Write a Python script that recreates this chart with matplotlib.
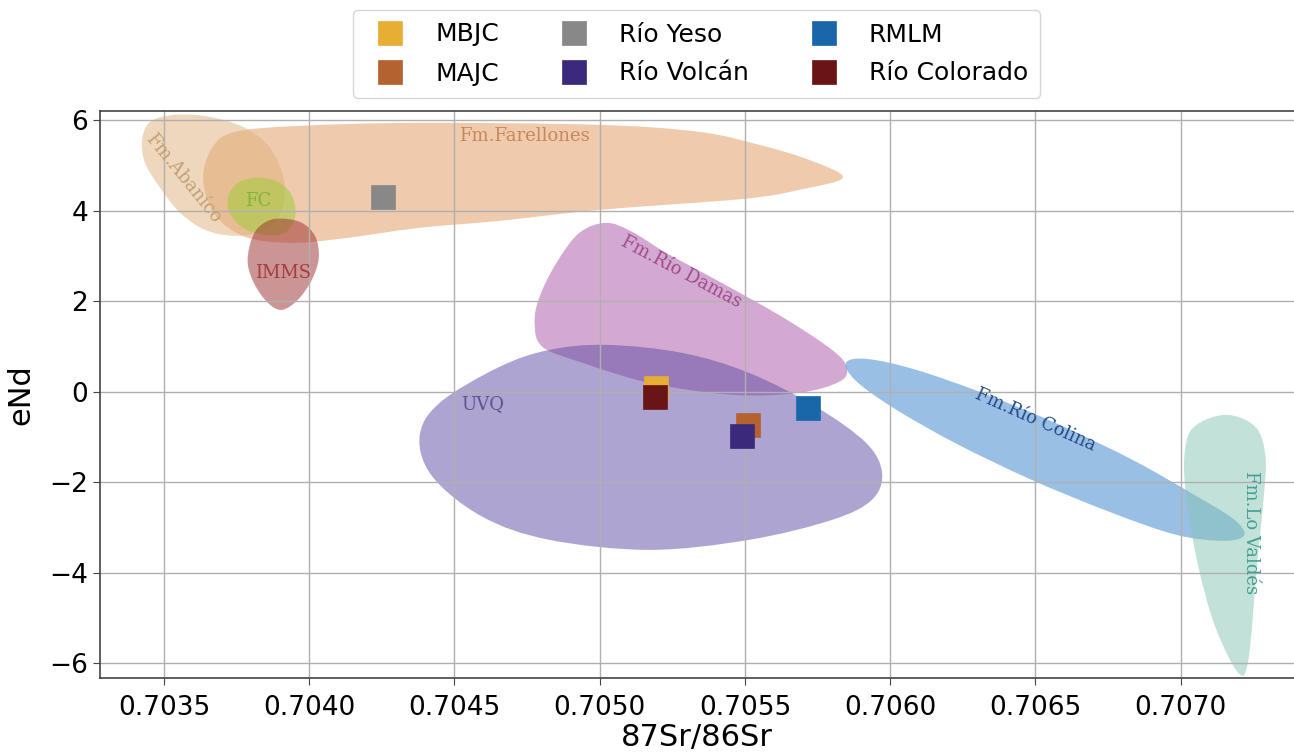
import numpy as np
import matplotlib
matplotlib.use("Agg")
import matplotlib.pyplot as plt
from matplotlib.path import Path
from matplotlib.patches import PathPatch

# ---------------- sample points ----------------
labels = ["MBJC", "MAJC", "Río Yeso", "Río Volcán", "RMLM", "Río Colorado"]
sr_ratio = [0.705195, 0.705511, 0.704253, 0.705490, 0.705716, 0.705192]
e_nd = [0.08, -0.75, 4.30, -0.99, -0.36, -0.13]
point_colors = ["#E6AE33", "#B4622F", "#888888", "#3B2A7B", "#1967A9", "#6A1515"]

# ---------------- field outlines (data coords) ----------------
farellones_x = [0.703635, 0.703666, 0.703745, 0.703968, 0.704380, 0.704999, 0.705343, 0.705549,
                0.705721, 0.705837, 0.705686, 0.705497, 0.704999, 0.704655, 0.704380, 0.704106,
                0.703934, 0.703779, 0.703676]
farellones_y = [4.685, 5.386, 5.739, 5.872, 5.938, 5.894, 5.739, 5.452,
                5.120, 4.729, 4.457, 4.259, 4.015, 3.772, 3.618, 3.375,
                3.286, 3.419, 3.904]

abanico_x = [0.703425, 0.703453, 0.703538, 0.703659, 0.703779, 0.703865, 0.703913, 0.703906,
             0.703848, 0.703745, 0.703642, 0.703556, 0.703487, 0.703435]
abanico_y = [5.562, 5.960, 6.115, 6.071, 5.828, 5.386, 4.685, 4.015,
             3.573, 3.441, 3.573, 3.949, 4.502, 5.054]

fc_x = [0.703721, 0.703755, 0.703824, 0.703899, 0.703944, 0.703951, 0.703916, 0.703848,
        0.703772, 0.703727]
fc_y = [4.303, 4.612, 4.729, 4.612, 4.281, 3.839, 3.507, 3.463, 3.618, 3.949]

imms_x = [0.703796, 0.703824, 0.703882, 0.703968, 0.704020, 0.704033, 0.704009, 0.703961,
          0.703906, 0.703858, 0.703813, 0.703789]
imms_y = [3.241, 3.618, 3.816, 3.750, 3.441, 2.955, 2.468, 2.026, 1.805, 1.960, 2.358, 2.800]

damas_x = [0.705023, 0.704930, 0.704851, 0.704793, 0.704776, 0.704803, 0.704941, 0.705171,
           0.705456, 0.705686, 0.705824, 0.705851, 0.705800, 0.705628, 0.705401, 0.705229,
           0.705112]
damas_y = [3.728, 3.507, 2.844, 2.093, 1.518, 0.988, 0.634, 0.192,
           -0.073, -0.029, 0.214, 0.524, 0.921, 1.651, 2.468, 3.065,
           3.529]

uvq_x = [0.705023, 0.705284, 0.705514, 0.705745, 0.705917, 0.705972, 0.705937, 0.705800,
         0.705514, 0.705171, 0.704827, 0.704597, 0.704425, 0.704380, 0.704449, 0.704655,
         0.704827]
uvq_y = [1.032, 0.855, 0.413, -0.338, -1.134, -1.797, -2.393, -2.836,
         -3.277, -3.498, -3.277, -2.769, -1.885, -1.001, -0.250, 0.546,
         0.921]

colina_x = [0.707219, 0.707150, 0.706985, 0.706755, 0.706487, 0.706229, 0.706016, 0.705882,
            0.705848, 0.705917, 0.706078, 0.706308, 0.706576, 0.706834, 0.707047, 0.707181]
colina_y = [-3.167, -3.299, -3.167, -2.659, -1.951, -1.156, -0.382, 0.236,
            0.634, 0.723, 0.502, -0.007, -0.714, -1.509, -2.283, -2.813]

valdes_x = [0.707154, 0.707044, 0.707013, 0.707020, 0.707061, 0.707119, 0.707198, 0.707233,
            0.707262, 0.707285, 0.707292, 0.707257]
valdes_y = [-0.515, -0.790, -1.399, -2.393, -3.874, -5.200, -6.216, -5.929,
            -3.874, -2.393, -1.443, -0.780]

field_names = ["Fm.Farellones", "Fm.Abaníco", "FC", "IMMS", "Fm.Río Damas", "UVQ",
               "Fm.Río Colina", "Fm.Lo Valdés"]
field_fill = ["#E1975D", "#E1B17D", "#9ACD32", "#9B2D2D", "#A955A5", "#5F4BA5",
              "#3781CD", "#87C5B5"]
field_text = ["#C8875A", "#C3A073", "#7DB43A", "#A53C41", "#A04B8C", "#5F558C",
              "#234B87", "#46A096"]
label_x = [0.704741, 0.703566, 0.703824, 0.703910, 0.705281, 0.704597, 0.706501, 0.707243]
label_y = [5.65, 4.72, 4.21, 2.62, 2.64, -0.27, -0.625, -3.12]
label_rot = [0, -51, 0, 0, -28, 0, -24, -90]

outlines = [(farellones_x, farellones_y), (abanico_x, abanico_y), (fc_x, fc_y),
            (imms_x, imms_y), (damas_x, damas_y), (uvq_x, uvq_y),
            (colina_x, colina_y), (valdes_x, valdes_y)]

x_ticks = [0.7035, 0.7040, 0.7045, 0.7050, 0.7055, 0.7060, 0.7065, 0.7070]
y_ticks = [-6, -4, -2, 0, 2, 4, 6]


def smooth_closed_path(xs, ys):
    P = np.column_stack([xs, ys]).astype(float)
    n = len(P)
    verts = [P[0]]
    codes = [Path.MOVETO]
    for i in range(n):
        p0, p1, p2, p3 = P[i - 1], P[i], P[(i + 1) % n], P[(i + 2) % n]
        verts += [p1 + (p2 - p0) / 6.0, p2 - (p3 - p1) / 6.0, p2]
        codes += [Path.CURVE4] * 3
    verts.append(P[0])
    codes.append(Path.CLOSEPOLY)
    return Path(verts, codes)


fig = plt.figure(figsize=(12.94, 7.55), dpi=100)
ax = fig.add_axes([100 / 1294, 1 - 678 / 755, 1194 / 1294, 567 / 755])

for (xs, ys), fc in zip(outlines, field_fill):
    ax.add_patch(PathPatch(smooth_closed_path(xs, ys), facecolor=fc, alpha=0.5,
                           edgecolor="none", lw=0, zorder=1))

for name, tx, ty, rot, col in zip(field_names, label_x, label_y, label_rot, field_text):
    ax.text(tx, ty, name, fontsize=13, family="DejaVu Serif", color=col,
            rotation=rot, rotation_mode="anchor", ha="center", va="center", zorder=3)

for lab, xv, yv, col in zip(labels, sr_ratio, e_nd, point_colors):
    ax.plot([xv], [yv], linestyle="none", marker="s", markersize=17, color=col,
            markeredgecolor=col, markeredgewidth=0.5, label=lab, zorder=5)

ax.set_xlim(0.70328, 0.70739)
ax.set_ylim(-6.33, 6.2)
ax.set_xticks(x_ticks)
ax.set_xticklabels([f"{v:.4f}" for v in x_ticks])
ax.set_yticks(y_ticks)
ax.tick_params(axis="both", labelsize=19, length=5, color="#444444")
ax.tick_params(axis="x", pad=7)
ax.grid(True, color="#b0b0b0", lw=1, zorder=0)
for s in ax.spines.values():
    s.set_color("#444444")
    s.set_linewidth(1.2)
ax.spines["right"].set_visible(False)
ax.set_xlabel("87Sr/86Sr", fontsize=22, labelpad=2)
ax.set_ylabel("eNd", fontsize=22, labelpad=10)

fig.legend(loc="upper center", bbox_to_anchor=(696.5 / 1294, 1 - 10 / 755), ncol=3,
           fontsize=18, numpoints=1, frameon=True, handletextpad=0.8, columnspacing=2.0,
           borderpad=0.5, labelspacing=0.6, borderaxespad=0)

fig.savefig("out.png", dpi=100)
